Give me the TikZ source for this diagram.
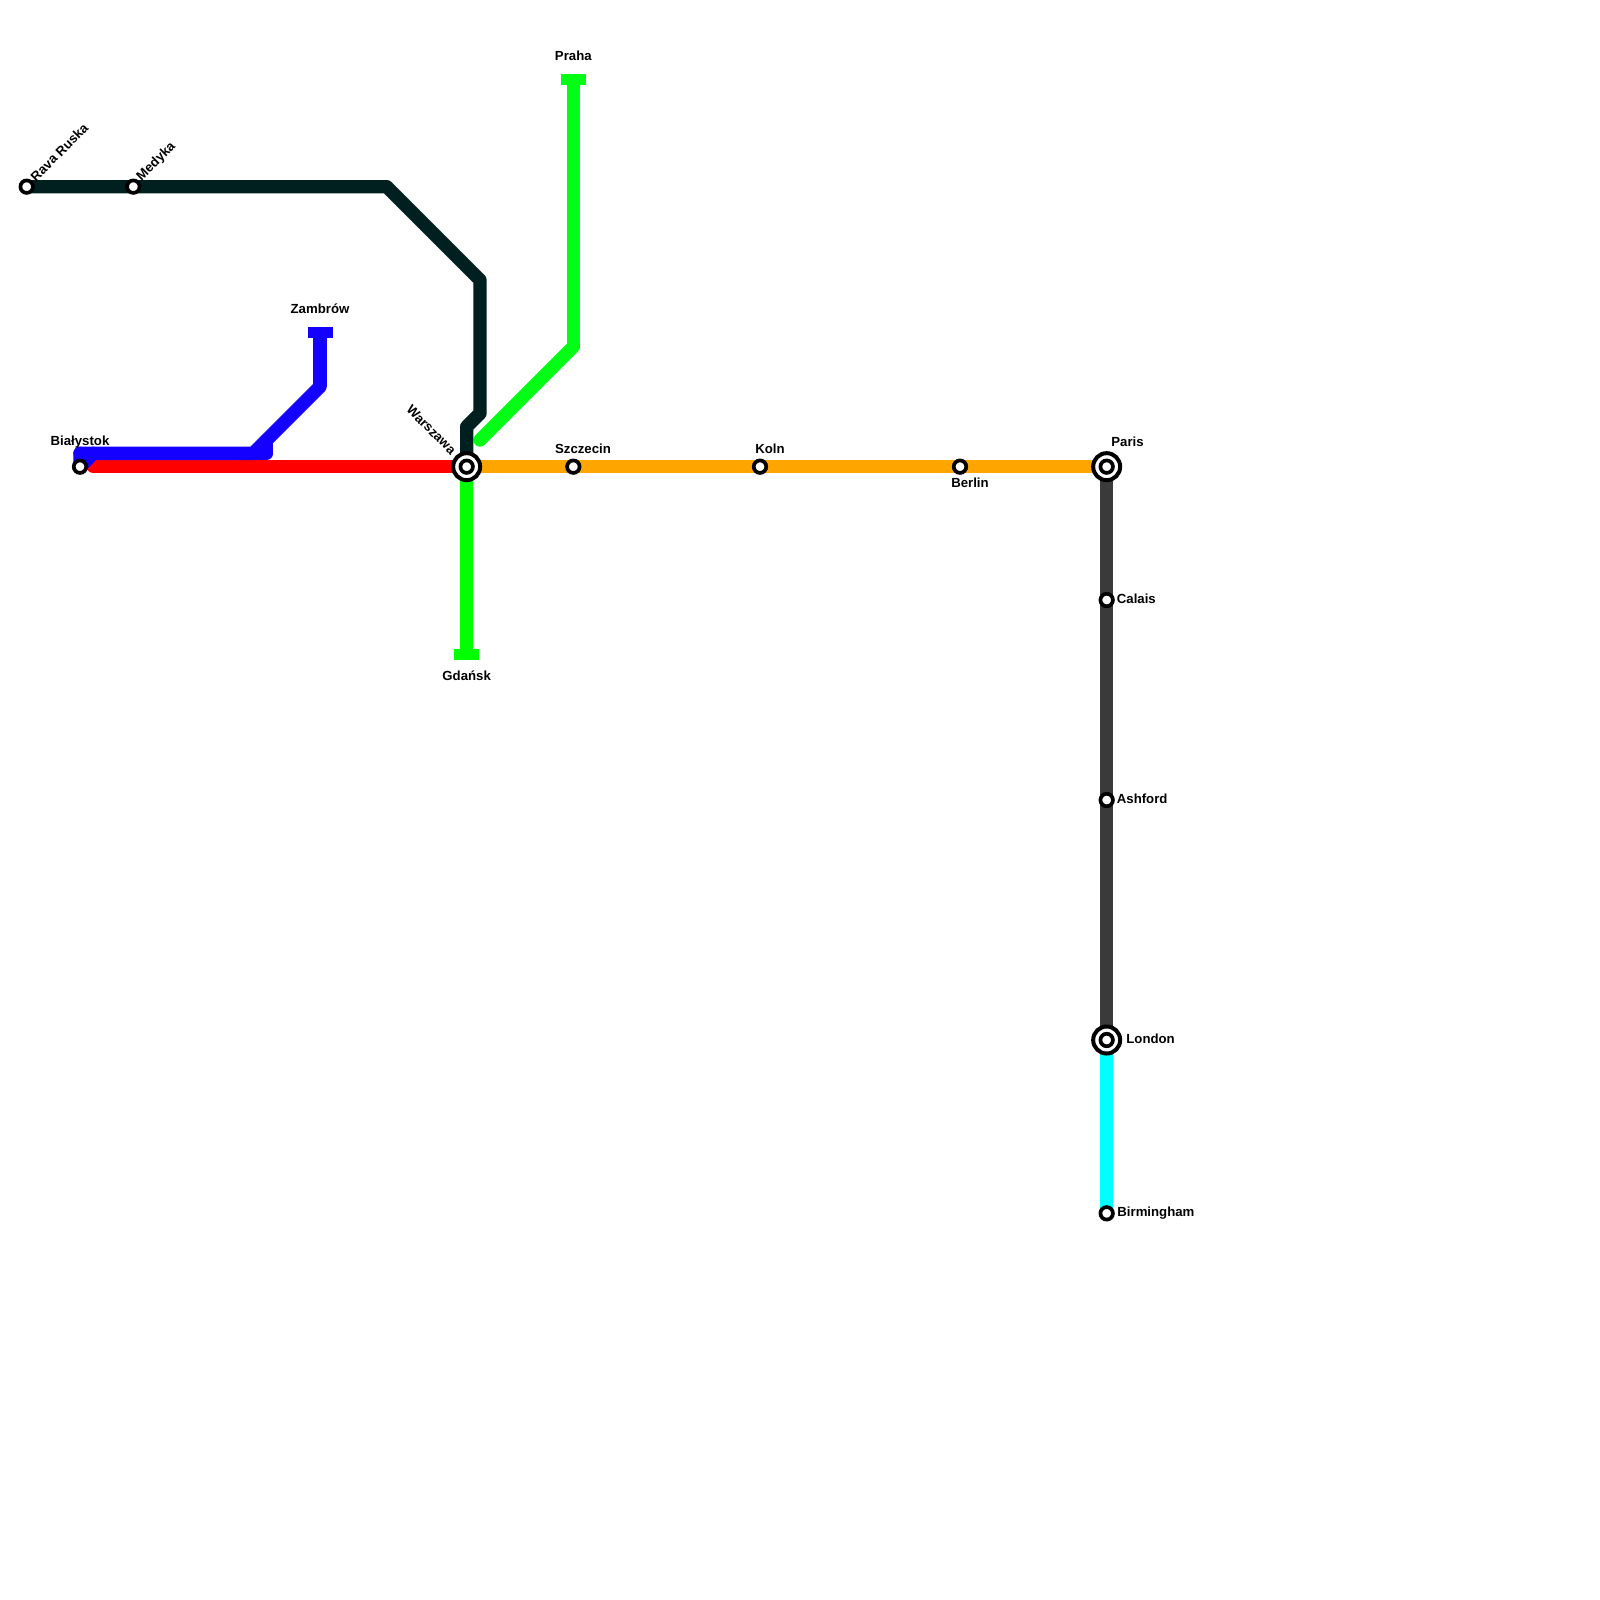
\documentclass[tikz,border=0pt]{standalone}
\usepackage{fontspec}
\setmainfont{Liberation Sans}
\definecolor{ldark}{HTML}{001F1F}
\definecolor{lgray}{HTML}{3A3A3A}
\definecolor{lblue}{HTML}{1400FF}
\definecolor{lgreen}{HTML}{00FF14}
\definecolor{lgreenb}{HTML}{00FF00}
\definecolor{lorange}{HTML}{FFA500}
\definecolor{lcyan}{HTML}{00FFFF}
\definecolor{lred}{HTML}{FF0000}
\tikzset{
 metro/.style={line width=6.67pt,line cap=round,line join=round},
 stem/.style={line width=6.67pt,line cap=butt},
 stn/.style={circle,draw=black,fill=white,line width=1.85pt,minimum size=6.25pt,inner sep=0pt},
 hub/.style={circle,draw=black,fill=white,line width=2pt,minimum size=13.5pt,inner sep=0pt},
 tbar/.style={rectangle,minimum width=12.5pt,minimum height=5.5pt,inner sep=0pt,outer sep=0pt},
 lab/.style={font=\fontsize{6.6}{8}\selectfont\bfseries,inner sep=0pt,text=black},
}
\begin{document}
\begin{tikzpicture}[x=0.5pt,y=-0.5pt]
\useasboundingbox (0,0) rectangle (1600,1600);
% route vertices
\coordinate (d1) at (386.67,186.67);
\coordinate (d2) at (480,280);
\coordinate (d3) at (480,413.33);
\coordinate (d4) at (466.67,426.67);
\coordinate (b1) at (320,386.67);
\coordinate (b2) at (266.67,440);
\coordinate (b3) at (266.67,453.33);
\coordinate (b4) at (93.33,453.33);
\coordinate (b5) at (80,453.33);
\coordinate (b6) at (253.33,453.33);
\coordinate (r1) at (93.33,466.67);
\coordinate (g1) at (573.33,346.67);
\coordinate (g2) at (480,440);
% stations (positions)
\coordinate (pRava) at (26.67,186.67);
\coordinate (pMedyka) at (133.33,186.67);
\coordinate (pBial) at (80,466.67);
\coordinate (pWars) at (466.67,466.67);
\coordinate (pSzcz) at (573.33,466.67);
\coordinate (pKoln) at (760,466.67);
\coordinate (pBerl) at (960,466.67);
\coordinate (pPari) at (1106.67,466.67);
\coordinate (pCala) at (1106.67,600);
\coordinate (pAshf) at (1106.67,800);
\coordinate (pLond) at (1106.67,1040);
\coordinate (pBirm) at (1106.67,1213.33);
% terminal bars
\node[tbar,fill=lblue] (tZamb) at (320,332.5) {};
\node[tbar,fill=lgreen] (tPrah) at (573.33,79.5) {};
\node[tbar,fill=lgreenb] (tGdan) at (466.67,654.5) {};
% lines
\draw[metro,lred] (r1) -- (pWars);
\draw[metro,lorange] (pWars) -- (pPari);
\draw[stem,lgreenb] (pWars) -- (tGdan.center);
\draw[stem,lgreen] (tPrah.center) -- (g1);
\draw[metro,lgreen] (g1) -- (g2);
\draw[metro,ldark] (pRava) -- (pMedyka) -- (d1) -- (d2) -- (d3) -- (d4) -- (pWars);
\draw[stem,lblue] (tZamb.center) -- (b1);
\draw[metro,lblue] (b1) -- (b6) -- (b5);
\draw[metro,lblue] (b2) -- (b3) -- (b6);
\draw[metro,lblue] (b4) -- (pBial) -- (b5);
\draw[metro,lgray] (pPari) -- (pCala) -- (pAshf) -- (pLond);
\draw[metro,lcyan] (pLond) -- (pBirm);
% stations
\node[stn] (sRava) at (pRava) {};
\node[stn] (sMedyka) at (pMedyka) {};
\node[stn] (sBial) at (pBial) {};
\node[hub] (hWars) at (pWars) {};
\node[stn] (sWars) at (pWars) {};
\node[stn] (sSzcz) at (pSzcz) {};
\node[stn] (sKoln) at (pKoln) {};
\node[stn] (sBerl) at (pBerl) {};
\node[hub] (hPari) at (pPari) {};
\node[stn] (sPari) at (pPari) {};
\node[stn] (sCala) at (pCala) {};
\node[stn] (sAshf) at (pAshf) {};
\node[hub] (hLond) at (pLond) {};
\node[stn] (sLond) at (pLond) {};
\node[stn] (sBirm) at (pBirm) {};
% labels
\node[lab,rotate=45,anchor=west] (lRava) at (32.5,179) {Rava Ruska};
\node[lab,rotate=45,anchor=west] (lMedyka) at (139,179) {Medyka};
\node[lab] (lBial) at (80,442.5) {Białystok};
\node[lab] (lZamb) at (320,309) {Zambrów};
\node[lab] (lPrah) at (573.33,55.5) {Praha};
\node[lab] (lGdan) at (466.67,676) {Gdańsk};
\node[lab,rotate=-45,anchor=east] (lWars) at (454,452.5) {Warszawa};
\node[lab] (lSzcz) at (583,449) {Szczecin};
\node[lab] (lKoln) at (770,449) {Koln};
\node[lab] (lBerl) at (970,483) {Berlin};
\node[lab,anchor=west] (lPari) at (1111,442) {Paris};
\node[lab,anchor=west] (lCala) at (1116.5,599) {Calais};
\node[lab,anchor=west] (lAshf) at (1116.5,799) {Ashford};
\node[lab,anchor=west] (lLond) at (1126,1039) {London};
\node[lab,anchor=west] (lBirm) at (1117,1213.5) {Birmingham};
\end{tikzpicture}
\end{document}
